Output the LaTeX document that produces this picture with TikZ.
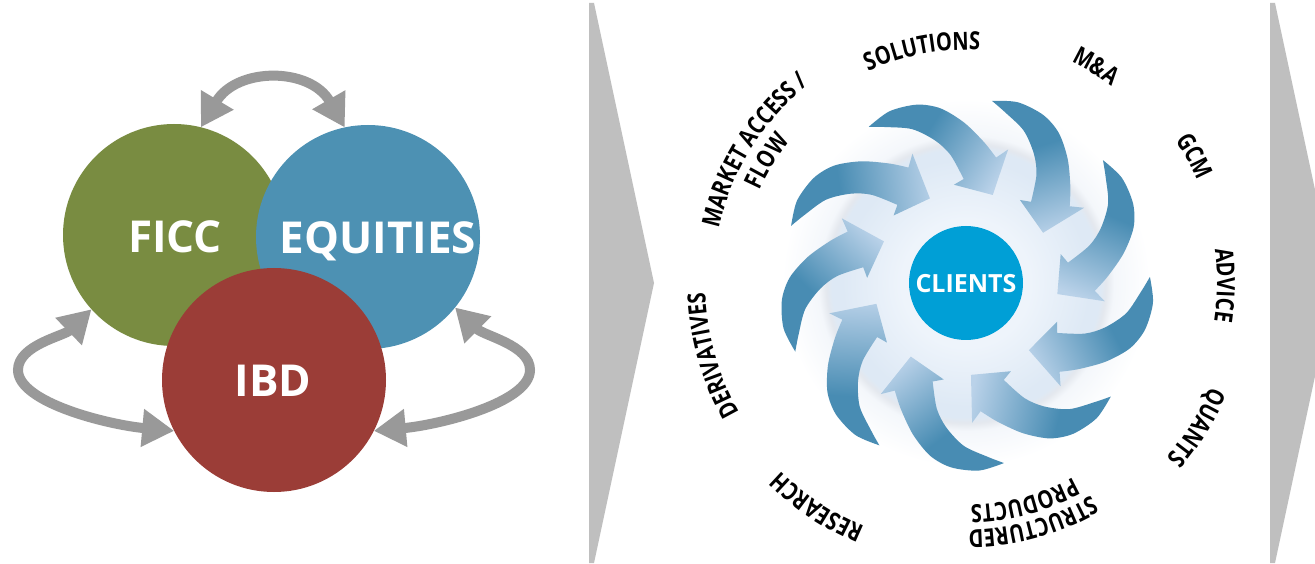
\documentclass[tikz,border=0pt]{standalone}
\usepackage{fontspec}
\setmainfont{Open Sans}
\newfontfamily\ringfam{Open Sans}[FakeStretch=0.8]
\usetikzlibrary{arrows.meta,decorations.text}

\definecolor{ficcGreen}{RGB}{121,140,65}
\definecolor{eqBlue}{RGB}{77,145,179}
\definecolor{ibdRed}{RGB}{155,61,55}
\definecolor{linkGray}{RGB}{153,153,153}
\definecolor{chevGray}{RGB}{191,191,191}
\definecolor{hubBlue}{RGB}{0,159,214}
\definecolor{swirlDark}{RGB}{72,140,179}
\definecolor{swirlLight}{RGB}{186,210,233}
\definecolor{haloIn}{RGB}{238,244,251}
\definecolor{haloMid}{RGB}{222,233,245}
\definecolor{haloRim}{RGB}{228,232,238}
\definecolor{haloOut}{RGB}{244,247,251}

% soft glow behind the swirl (25bp = radius of the shaded circle)
\pgfdeclareradialshading{halo}{\pgfpointorigin}{color(0bp)=(haloIn); color(8bp)=(haloIn); color(15.5bp)=(haloMid); color(16.8bp)=(haloMid); color(17.5bp)=(haloRim); color(18.5bp)=(haloOut); color(23bp)=(white); color(50bp)=(white)}
% dark tail fading to a pale head
\pgfdeclarehorizontalshading{swirl}{100bp}{color(0bp)=(swirlDark); color(42bp)=(swirlDark); color(78bp)=(swirlLight); color(100bp)=(swirlLight)}

\newcommand\lblfont{\ringfam\fontsize{25}{25}\selectfont\bfseries}
% text set clockwise along an arc round the hub: angle, radius, half span, text
\newcommand\ringlabel[4]{%
  \path[decorate, decoration={text along path, text align=center, text={|\lblfont|#4}}]
    ([shift={(#1+#3:#2)}]hub) arc[start angle=#1+#3, end angle=#1-#3, radius=#2];}

\begin{document}
\begin{tikzpicture}[x=1pt, y=1pt,
  disc/.style={circle, inner sep=0pt, outer sep=0pt},
  disclabel/.style={text=white, font=\fontsize{44}{44}\selectfont\bfseries, text depth=0pt, inner sep=0pt},
  link/.style={draw=linkGray, line width=10pt, {Triangle[width=36pt,length=32pt]}-{Triangle[width=36pt,length=32pt]}}]

\useasboundingbox (0,0) rectangle (1315,563);
\fill[white] (0,0) rectangle (1315,563);

% separating chevrons
\fill[chevGray] (589,560) -- (594,560) -- (654,280) -- (594,0) -- (589,0) -- cycle;
\begin{scope}
  \clip (0,0) rectangle (1315,563);
  \fill[chevGray] (1270,560) -- (1275,560) -- (1335,280) -- (1275,0) -- (1270,0) -- cycle;
\end{scope}

% three business circles
\node[disc, fill=ficcGreen, minimum size=222pt] (ficc) at (174,328) {};
\node[disc, fill=eqBlue, minimum size=224pt] (equities) at (368,326) {};
\node[disc, fill=ibdRed, minimum size=224pt] (ibd) at (274,183) {};
\node[disclabel] (ficcText) at (175,326) {FICC};
\node[disclabel] (eqText) at (378,325) {EQUITIES};
\node[disclabel] (ibdText) at (273,182) {IBD};

% two-way links
\draw[link] (ficc.76) .. controls (237,496) and (310,496) .. (equities.102);
\draw[link] (ficc.222) .. controls (64,227) and (18,218) .. (18,193) .. controls (18,160) and (110,138) .. (ibd.207);
\draw[link] (equities.321) .. controls (484,227) and (530,218) .. (530,193) .. controls (530,160) and (438,138) .. (ibd.333);

% client hub with swirl of arrows
\coordinate (hub) at (966,280);
\shade[shading=halo] (hub) circle[radius=200];
\foreach \k in {0,...,8}{
  \pgfmathsetmacro\swrot{-1.5-40*\k}
  \pgfmathsetmacro\sang{-33-40*\k}
  \foreach \pn/\pa/\pd in {t/123.4/184, o1/115.5/188, o2/106.9/185, o3/99.8/176.5,
      o4/92.2/160.5, o5/84.2/142, bo/78/129, ob/74/140, tip/74.6/92,
      ib/98.5/99, bi/92.8/104, i1/98.4/129, i2/103.8/146, i3/110.8/163, i4/118.8/175.5}
    \coordinate (sw\pn) at ([shift={(\swrot+\pa:\pd)}]hub);
  \shade[shading=swirl, shading angle=\sang]
    plot[smooth] coordinates {(swt) (swo1) (swo2) (swo3) (swo4) (swo5) (swbo)}
    -- (swob) -- (swtip) -- (swib) -- (swbi)
    -- plot[smooth] coordinates {(swbi) (swi1) (swi2) (swi3) (swi4) (swt)} -- cycle;
}
\node[disc, fill=hubBlue, minimum size=114pt, text=white,
      font=\fontsize{25}{25}\selectfont\bfseries, text depth=0pt] (clients) at (hub) {CLIENTS};

% capabilities round the hub
\ringlabel{100.7}{233}{45}{SOLUTIONS}
\ringlabel{59}{245}{30}{M{\&}A}
\ringlabel{29}{253}{30}{GCM}
\ringlabel{-0.5}{251}{30}{ADVICE}
\ringlabel{-32}{266}{30}{QUANTS}
\ringlabel{-74.4}{247}{40}{STRUCTURED}
\ringlabel{-75}{222}{40}{PRODUCTS}
\ringlabel{236.4}{264}{35}{RESEARCH}
\ringlabel{196}{261}{40}{DERIVATIVES}
\ringlabel{148}{253}{45}{MARKET ACCESS /}
\ringlabel{148.5}{226}{30}{FLOW}

\end{tikzpicture}
\end{document}
